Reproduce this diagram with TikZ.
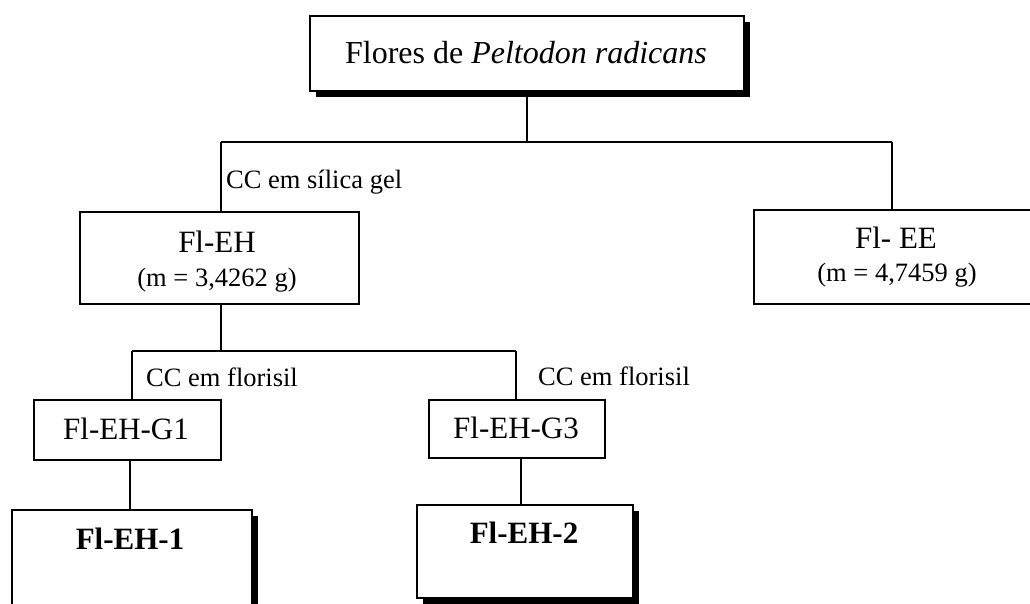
\documentclass[tikz,border=0pt]{standalone}
\usepackage{fontspec}
\setmainfont{Liberation Serif}
\usetikzlibrary{shadows}
\begin{document}
\begin{tikzpicture}[x=1pt,y=-1pt,
  boxbase/.style={draw, line width=1.7pt, fill=white, inner sep=0pt, anchor=north west},
  shbox/.style={boxbase, drop shadow={shadow xshift=6pt, shadow yshift=-6pt, fill=black, opacity=1}},
  conn/.style={line width=1.7pt},
  big/.style={anchor=base, inner sep=0pt, font=\fontsize{31}{36}\selectfont},
  topfont/.style={anchor=base, inner sep=0pt, font=\fontsize{32}{38}\selectfont},
  small/.style={anchor=base, inner sep=0pt, font=\fontsize{26.5}{31}\selectfont},
  lbl/.style={anchor=base west, inner sep=0pt, font=\fontsize{26.5}{31}\selectfont},
  boldt/.style={anchor=base, inner sep=0pt, font=\fontsize{31}{36}\selectfont\bfseries}]
\useasboundingbox[fill=white] (0,0) rectangle (1030,603);

% junction coordinates
\coordinate (j1) at (527,142);
\coordinate (j1L) at (221,142);
\coordinate (j1R) at (892,142);
\coordinate (j2) at (221,351);
\coordinate (j2L) at (132,351);
\coordinate (j2R) at (516,351);

% boxes
\node[shbox, minimum width=434, minimum height=75] (top) at (309,15) {};
\node[boxbase, minimum width=279, minimum height=92] (eh) at (79,211) {};
\node[boxbase, minimum width=300, minimum height=94] (ee) at (753,209) {};
\node[boxbase, minimum width=187, minimum height=60] (g1) at (33,399) {};
\node[boxbase, minimum width=176, minimum height=58] (g3) at (428,399) {};
\node[shbox, minimum width=240, minimum height=120] (eh1) at (11,509) {};
\node[shbox, minimum width=216, minimum height=93] (eh2) at (416,504) {};

% connectors
\draw[conn] (top.south -| j1) -- (j1);
\draw[conn] (j1L) -- (j1R);
\draw[conn] (j1L) -- (eh.north -| j1L);
\draw[conn] (j1R) -- (ee.north -| j1R);
\draw[conn] (eh.south -| j2) -- (j2);
\draw[conn] (j2L) -- (j2R);
\draw[conn] (j2L) -- (g1.north -| j2L);
\draw[conn] (j2R) -- (g3.north -| j2R);
\coordinate (c1) at (130,0);
\coordinate (c2) at (521,0);
\draw[conn] (g1.south -| c1) -- (eh1.north -| c1);
\draw[conn] (g3.south -| c2) -- (eh2.north -| c2);

% texts
\node[topfont] (toptext) at (526,63) {Flores de \textit{Peltodon radicans}};
\node[big] (ehtext) at (217,252) {Fl-EH};
\node[small] (ehm) at (217,286) {(m = 3,4262 g)};
\node[big] (eetext) at (896,248) {Fl- EE};
\node[small] (eem) at (897,281) {(m = 4,7459 g)};
\node[big] (g1text) at (126,439) {Fl-EH-G1};
\node[big] (g3text) at (516,438) {Fl-EH-G3};
\node[boldt] (eh1text) at (130,549) {Fl-EH-1};
\node[boldt] (eh2text) at (524,543) {Fl-EH-2};
\node[lbl] (l1) at (226,188) {CC em sílica gel};
\node[lbl] (l2) at (146,386) {CC em florisil};
\node[lbl] (l3) at (538,385) {CC em florisil};
\end{tikzpicture}
\end{document}
